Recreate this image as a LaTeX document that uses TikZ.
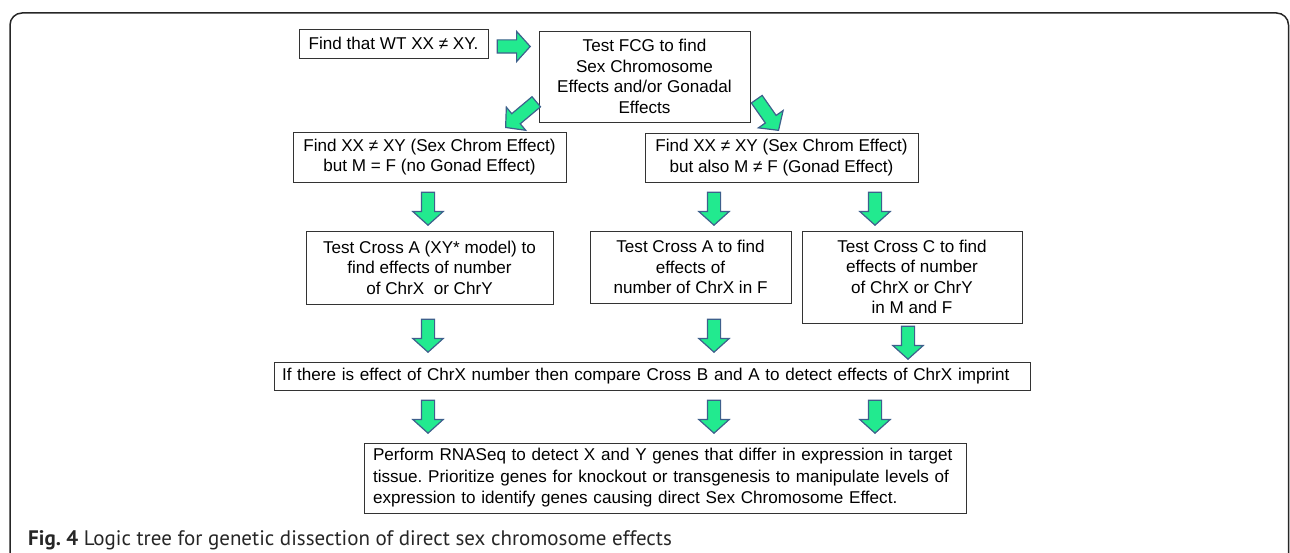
\documentclass[tikz,border=0pt]{standalone}
\usepackage{fontspec}
\setmainfont{Liberation Sans}
\newfontfamily\capfont{PT Sans}
\usetikzlibrary{shapes.arrows}
\definecolor{agreen}{RGB}{34,234,143}
\definecolor{ablue}{RGB}{62,96,140}
\frenchspacing
\begin{document}
\begin{tikzpicture}[x=1pt,y=-1pt,
  box/.style={draw=black!80, line width=0.9pt, inner sep=0pt, align=center,
    font=\fontsize{17.1}{20.5}\selectfont},
  lbox/.style={draw=black!80, line width=0.9pt, inner xsep=8pt, inner ysep=0pt, align=left,
    font=\fontsize{17.1}{21.5}\selectfont},
  barrow/.style={single arrow, draw=ablue, fill=agreen, line width=1.2pt,
    inner xsep=0pt, inner ysep=6pt, single arrow head extend=8.5pt,
    single arrow tip angle=96, single arrow head indent=0pt,
    minimum height=33pt, anchor=tip}]
\useasboundingbox (0,0) rectangle (1290,553);
% frame
\draw[line width=1.5pt, black!85, rounded corners=12pt] (10,553) -- (10,13) -- (1288.5,13) -- (1288.5,553);
% boxes
\node[box, minimum width=189, minimum height=29] (b1) at (393.5,43.5) {Find that WT XX ≠ XY.};
\node[box, minimum width=211, minimum height=91] (b2) at (644.5,76.5)
  {Test FCG to find\\Sex Chromosome\\Effects and/or Gonadal\\Effects};
\node[box, minimum width=273, minimum height=50] (b3l) at (429.5,157)
  {Find XX ≠ XY (Sex Chrom Effect)\\but M = F (no Gonad Effect)};
\node[box, minimum width=273, minimum height=49] (b3r) at (781.5,157.5)
  {Find XX ≠ XY (Sex Chrom Effect)\\but also M ≠ F (Gonad Effect)};
\node[box, minimum width=247, minimum height=73] (b4l) at (429.5,267.5)
  {Test Cross A (XY* model) to\\find effects of number\\of ChrX\ \ or ChrY};
\node[box, minimum width=201, minimum height=72] (b4m) at (690.5,267)
  {Test Cross A to find\\effects of\\number of ChrX in F};
\node[box, minimum width=220, minimum height=92] (b4r) at (912,277)
  {Test Cross C to find\\effects of number\\of ChrX or ChrY\\in M and F};
\node[lbox, text width=740, minimum height=28] (b5) at (652,376)
  {If there is effect of ChrX number then compare Cross B and A to detect effects of ChrX imprint};
\node[lbox, inner xsep=9pt, text width=584, minimum height=70] (b6) at (665,478)
  {Perform RNASeq to detect X and Y genes that differ in expression in target\\
   tissue. Prioritize genes for knockout or transgenesis to manipulate levels of\\
   expression to identify genes causing direct Sex Chromosome Effect.};
% arrows
\node[barrow] (a0) at (531,46.5) {};
\node[barrow, rotate=220, minimum height=40pt] (adl) at (505,128) {};
\node[barrow, rotate=-55, minimum height=38pt] (adr) at (779,131) {};
\node[barrow, rotate=-90] (a11) at (428,226) {};
\node[barrow, rotate=-90] (a12) at (714,226) {};
\node[barrow, rotate=-90] (a13) at (875,226) {};
\node[barrow, rotate=-90] (a21) at (428,353) {};
\node[barrow, rotate=-90] (a22) at (714,353) {};
\node[barrow, rotate=-90] (a23) at (908,360) {};
\node[barrow, rotate=-90] (a31) at (428,434) {};
\node[barrow, rotate=-90] (a32) at (714,434) {};
\node[barrow, rotate=-90] (a33) at (875,434) {};
% caption
\node[anchor=base west, inner sep=0pt, text=black!85, font=\capfont\fontsize{21}{24}\selectfont] (cap) at (28,545)
  {\textbf{Fig. 4} Logic tree for genetic dissection of direct sex chromosome effects};
\end{tikzpicture}
\end{document}
